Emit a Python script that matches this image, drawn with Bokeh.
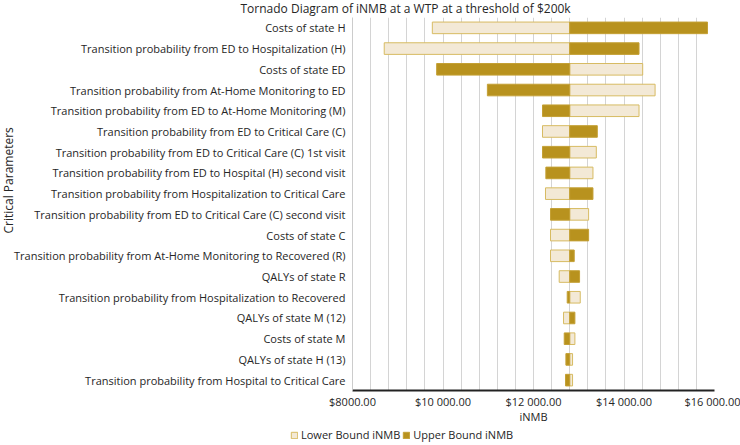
from bokeh.plotting import figure
from bokeh.layouts import column
from bokeh.models import (FactorRange, Range1d, SingleIntervalTicker, FixedTicker,
                          Title, Legend, LegendItem, ColumnDataSource)
from bokeh.embed import file_html
from bokeh.resources import INLINE

# ---------------- data ----------------
parameters = [
    "Costs of state H",
    "Transition probability from ED to Hospitalization (H)",
    "Costs of state ED",
    "Transition probability from At-Home Monitoring to ED",
    "Transition probability from ED to At-Home Monitoring (M)",
    "Transition probability from ED to Critical Care (C)",
    "Transition probability from ED to Critical Care (C) 1st visit",
    "Transition probability from ED to Hospital (H) second visit",
    "Transition probability from Hospitalization to Critical Care",
    "Transition probability from ED to Critical Care (C) second visit",
    "Costs of state C",
    "Transition probability from At-Home Monitoring to Recovered (R)",
    "QALYs of state R",
    "Transition probability from Hospitalization to Recovered",
    "QALYs of state M (12)",
    "Costs of state M",
    "QALYs of state H (13)",
    "Transition probability from Hospital to Critical Care",
]
lower_bound = [9764, 8701, 14413, 14687, 14332, 12199, 13388, 13314, 12265,
               13218, 12376, 12376, 12568, 13033, 12664, 12915, 12863, 12863]
upper_bound = [15845, 14332, 9860, 10981, 12199, 13410, 12199, 12273, 13314,
               12376, 13218, 12900, 13018, 12745, 12915, 12679, 12716, 12708]
base_value = 12800
tick_values = [8000, 10000, 12000, 14000, 16000]
tick_labels = ["$8000.00", "$10 000.00", "$12 000.00", "$14 000.00", "$16 000.00"]
legend_labels = ["Lower Bound iNMB", "Upper Bound iNMB"]

# ---------------- style ----------------
FONT = "Open Sans"
TXT = "#262626"
LIGHT_FILL = "#F3E9D6"
LIGHT_LINE = "#D7BB62"
DARK_FILL = "#B8921E"
DARK_LINE = "#C4A035"

W = 740
H_MAIN, H_LEG = 427, 18

src = ColumnDataSource(dict(
    param=parameters,
    base=[base_value] * len(parameters),
    low=lower_bound,
    up=upper_bound,
))

p = figure(width=W, height=H_MAIN, output_backend="svg", toolbar_location=None,
           y_range=FactorRange(factors=list(reversed(parameters))),
           x_range=Range1d(8000, 16000),
           min_border_left=352, min_border_right=26,
           min_border_top=17, min_border_bottom=37)
p.frame_align = False
p.outline_line_color = None
p.background_fill_color = "white"
p.border_fill_color = "white"

p.hbar(y="param", left="base", right="low", height=0.56, source=src,
       fill_color=LIGHT_FILL, line_color=LIGHT_LINE, line_width=1)
p.hbar(y="param", left="base", right="up", height=0.56, source=src,
       fill_color=DARK_FILL, line_color=DARK_LINE, line_width=1)

# title
p.title.text = "Tornado Diagram of iNMB at a WTP at a threshold of $200k"
p.title.align = "left"
p.title.vertical_align = "top"
p.title.offset = 240 - 352
p.title.standoff = -3
p.title.text_font = FONT
p.title.text_font_size = "12px"
p.title.text_font_style = "normal"
p.title.text_color = TXT

# grid
p.ygrid.grid_line_color = None
p.xgrid.ticker = SingleIntervalTicker(interval=400)
p.xgrid.grid_line_color = "#d4d4d4"
p.xgrid.grid_line_width = 1

# x axis
xa = p.xaxis[0]
xa.ticker = FixedTicker(ticks=tick_values)
xa.major_label_overrides = {v: t for v, t in zip(tick_values, tick_labels)}
xa.axis_label = "iNMB"
xa.axis_line_color = "#222222"
xa.axis_line_width = 2
xa.major_tick_line_color = None
xa.minor_tick_line_color = None
xa.major_tick_out = 0
xa.major_tick_in = 0
xa.major_label_standoff = 3
xa.axis_label_standoff = -3
xa.major_label_text_font = FONT
xa.major_label_text_font_size = "11px"
xa.major_label_text_color = TXT
xa.axis_label_text_font = FONT
xa.axis_label_text_font_size = "11px"
xa.axis_label_text_font_style = "normal"
xa.axis_label_text_color = TXT

# y axis
ya = p.yaxis[0]
ya.axis_line_color = "#cccccc"
ya.major_tick_line_color = None
ya.minor_tick_line_color = None
ya.major_tick_out = 0
ya.major_tick_in = 0
ya.major_label_standoff = 7
ya.major_label_text_font = FONT
ya.major_label_text_font_size = "11px"
ya.major_label_text_color = TXT

# y axis title as a side title
ytitle = Title(text="Critical Parameters", align="left", offset=157, standoff=-10,
               text_font=FONT, text_font_size="12px", text_font_style="normal",
               text_color=TXT)
p.add_layout(ytitle, "left")

# legend strip (separate small figure so the legend can sit left of the plot frame;
# its bars fall outside its own x range, so only the legend shows)
pl = figure(width=W, height=H_LEG, output_backend="svg", toolbar_location=None,
            y_range=FactorRange(factors=list(reversed(parameters))),
            x_range=Range1d(0, 1),
            min_border_left=290, min_border_right=0, min_border_top=0,
            min_border_bottom=0, x_axis_location=None, y_axis_location=None)
pl.frame_align = False
pl.outline_line_color = None
pl.grid.grid_line_color = None
lg_low = pl.hbar(y="param", left="base", right="low", height=0.5, source=src,
                 fill_color=LIGHT_FILL, line_color=LIGHT_LINE, line_width=1)
lg_up = pl.hbar(y="param", left="base", right="up", height=0.5, source=src,
                fill_color=DARK_FILL, line_color=DARK_LINE, line_width=1)
legend = Legend(items=[LegendItem(label=legend_labels[0], renderers=[lg_low], index=0),
                       LegendItem(label=legend_labels[1], renderers=[lg_up], index=0)],
                location="top_left", orientation="horizontal",
                padding=0, margin=0, spacing=2, label_standoff=3,
                glyph_width=8, glyph_height=8, label_height=10,
                border_line_color=None, background_fill_alpha=0,
                label_text_font=FONT, label_text_font_size="11px",
                label_text_line_height=1.0,
                label_text_color=TXT)
pl.add_layout(legend)

layout = column(p, pl, spacing=0)
open("out.html", "w").write(file_html(layout, INLINE))
